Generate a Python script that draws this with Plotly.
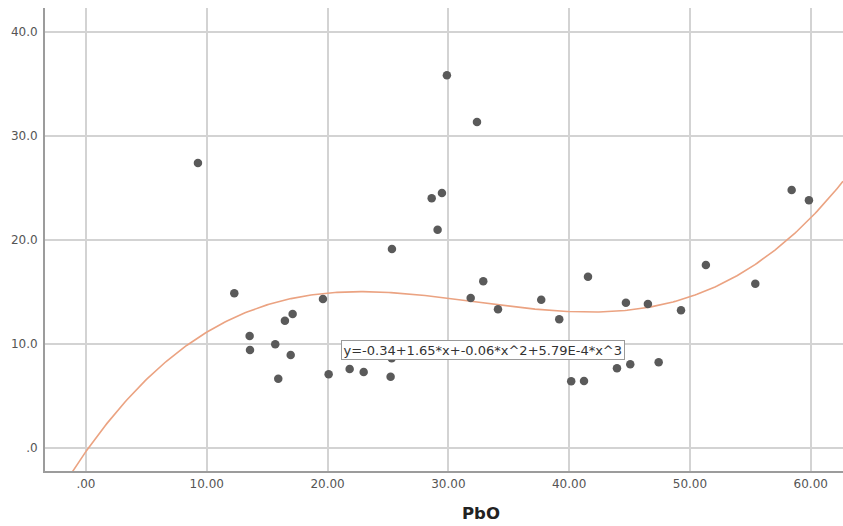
import plotly.graph_objects as go
import numpy as np

# Data (PbO vs response)
pbo = [9.27, 12.28, 13.55, 13.58, 15.67, 15.92, 16.47, 17.11, 16.95, 19.62,
       20.09, 21.83, 22.99, 25.33, 25.22, 25.31, 28.62, 29.11, 29.47, 29.88,
       32.37, 31.85, 32.89, 34.11, 37.69, 39.18, 40.17, 41.23, 41.56, 43.96,
       44.70, 45.06, 46.52, 47.41, 49.26, 51.32, 55.41, 58.42, 59.85]
resp = [27.40, 14.88, 10.77, 9.42, 9.97, 6.66, 12.24, 12.88, 8.94, 14.33,
        7.09, 7.60, 7.31, 19.13, 6.86, 8.63, 24.01, 20.99, 24.52, 35.84,
        31.35, 14.42, 16.03, 13.34, 14.26, 12.38, 6.41, 6.44, 16.47, 7.66,
        13.97, 8.05, 13.85, 8.24, 13.24, 17.60, 15.80, 24.81, 23.82]

# Cubic fit coefficients (a0, a1, a2, a3)
fit_coefs = [-0.34, 1.65, -0.056, 5.79e-4]
fit_label = "y=-0.34+1.65*x+-0.06*x^2+5.79E-4*x^3"

x_tickvals = [0, 10, 20, 30, 40, 50, 60]
x_ticktext = [".00", "10.00", "20.00", "30.00", "40.00", "50.00", "60.00"]
y_tickvals = [0, 10, 20, 30, 40]
y_ticktext = [".0", "10.0", "20.0", "30.0", "40.0"]

x_range = [-3.39, 62.67]
y_range = [-2.21, 42.3]

xf = np.linspace(x_range[0], x_range[1], 400)
yf = sum(c * xf**i for i, c in enumerate(fit_coefs))

fig = go.Figure()
fig.add_trace(go.Scatter(x=xf, y=yf, mode="lines",
                         line=dict(color="#EBA382", width=1.6),
                         hoverinfo="skip", showlegend=False))
fig.add_trace(go.Scatter(x=pbo, y=resp, mode="markers",
                         marker=dict(color="#5a5a5a", size=8.5),
                         showlegend=False))

fig.add_annotation(x=32.89, y=9.45, xref="x", yref="y", text=fit_label,
                   showarrow=False, font=dict(family="DejaVu Sans", size=13, color="#333333"),
                   bgcolor="white", bordercolor="#9a9a9a", borderwidth=1, borderpad=1.5)

fig.add_annotation(x=(481 - 45) / (843 - 45), y=0, xref="paper", yref="paper",
                   text="<b>PbO</b>", showarrow=False, yshift=-42,
                   font=dict(family="DejaVu Sans", size=16.5, color="#222222"),
                   xanchor="center", yanchor="middle")

axis_common = dict(showgrid=True, gridcolor="#d3d3d3", gridwidth=1.5,
                   zeroline=False, showline=True, linecolor="#9c9c9c", linewidth=2,
                   ticks="", tickfont=dict(family="DejaVu Sans", size=12, color="#555555"))

fig.update_xaxes(range=x_range, tickvals=x_tickvals, ticktext=x_ticktext,
                 ticklabelstandoff=1, **axis_common)
fig.update_yaxes(range=y_range, tickvals=y_tickvals, ticktext=y_ticktext,
                 ticklabelstandoff=3, **axis_common)

fig.update_layout(width=843, height=526, margin=dict(l=45, r=0, t=8, b=55),
                  plot_bgcolor="white", paper_bgcolor="white")

fig.write_html("out.html")
